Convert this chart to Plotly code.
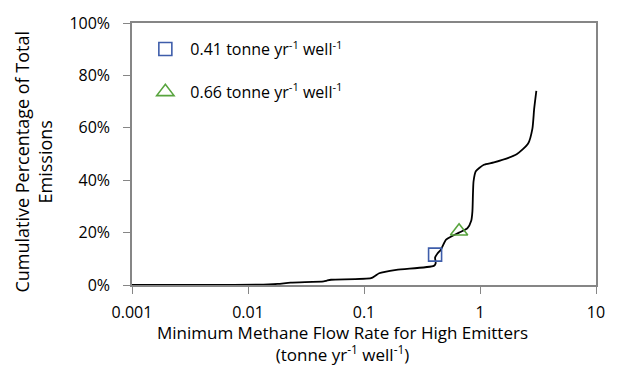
import plotly.graph_objects as go

# Cumulative curve (x in tonne/yr/well, y in %)
flow_rate = [0.001, 0.005, 0.012, 0.018, 0.0233, 0.045, 0.048, 0.052, 0.115, 0.125, 0.135,
             0.19, 0.40, 0.415, 0.41, 0.43, 0.46, 0.51, 0.57, 0.66, 0.78, 0.84, 0.86, 0.87,
             0.88, 0.92, 1.08, 1.32, 2.07, 2.6, 2.83, 2.93, 3.06]
cum_pct = [0.0, 0.05, 0.1, 0.4, 0.9, 1.4, 1.7, 2.0, 2.6, 3.5, 4.5,
           5.8, 7.3, 8.3, 10.5, 12.0, 13.5, 17.3, 18.6, 20.0, 21.7, 24.5, 28.0, 35.0,
           39.6, 43.4, 45.9, 46.8, 49.9, 54.0, 59.7, 67.2, 74.1]

marker_x = [0.41, 0.66]
marker_y = [11.6, 20.5]
marker_names = ["0.41 tonne yr<sup>-1</sup> well<sup>-1</sup>",
                "0.66 tonne yr<sup>-1</sup> well<sup>-1</sup>"]

x_tickvals = [0.001, 0.01, 0.1, 1, 10]
x_ticktext = ["0.001", "0.01", "0.1", "1", "10"]
y_tickvals = [0, 20, 40, 60, 80, 100]
y_ticktext = ["0%", "20%", "40%", "60%", "80%", "100%"]

FONT = "Open Sans"
AX = "#868686"

fig = go.Figure()
fig.add_trace(go.Scatter(x=flow_rate, y=cum_pct, mode="lines", line=dict(color="black", width=1.8, shape="spline", smoothing=0.6),
                         showlegend=False, hoverinfo="skip"))
fig.add_trace(go.Scatter(x=[marker_x[0]], y=[marker_y[0]], mode="markers", name=marker_names[0], legendgroup="a",
                         marker=dict(symbol="square-open", size=13, color="#3E5DAA", line=dict(width=1.6))))
fig.add_trace(go.Scatter(x=[marker_x[1]], y=[marker_y[1]], mode="markers", name=marker_names[1], legendgroup="b",
                         marker=dict(symbol="triangle-up-open", size=15, color="#58A43E", line=dict(width=1.6))))

fig.update_layout(
    width=617, height=382,
    margin=dict(l=132, r=13, t=19, b=97),
    paper_bgcolor="white", plot_bgcolor="white",
    font=dict(family=FONT, size=16, color="black"),
    showlegend=True,
    legend=dict(x=0.018, y=0.965, xanchor="left", yanchor="top", traceorder="grouped", tracegroupgap=19,
                itemwidth=40, bgcolor="rgba(0,0,0,0)", font=dict(family=FONT, size=16)),
    xaxis=dict(type="log", range=[-3, 1], tickvals=x_tickvals, ticktext=x_ticktext,
               showgrid=False, zeroline=False, showline=True, linecolor=AX, linewidth=1.5, mirror=True,
               ticks="outside", ticklen=7, tickcolor=AX, tickwidth=1.2, tickfont=dict(size=16),
               ticklabelstandoff=5, ticklabeloverflow="allow"),
    yaxis=dict(range=[0, 100], tickvals=y_tickvals, ticktext=y_ticktext,
               showgrid=False, zeroline=False, showline=True, linecolor=AX, linewidth=1.5, mirror=True,
               ticks="outside", ticklen=7, tickcolor=AX, tickwidth=1.2, tickfont=dict(size=16),
               ticklabelstandoff=10),
)

fig.add_annotation(text="Minimum Methane Flow Rate for High Emitters<br>(tonne yr<sup>-1</sup> well<sup>-1</sup>)",
                   xref="paper", yref="paper", x=(346 - 132) / 472, y=-(344 - 285) / 265,
                   xanchor="center", yanchor="middle", showarrow=False, font=dict(size=17), align="center")
fig.add_annotation(text="Cumulative Percentage of Total<br>Emissions",
                   xref="paper", yref="paper", x=-(132 - 32) / 472, y=0.5 - (160 - 152) / 265,
                   xanchor="center", yanchor="middle", showarrow=False, textangle=-90, font=dict(size=18), align="center")

fig.write_html("out.html", config={"displayModeBar": False},
               post_script="document.body.style.margin='0';document.body.style.padding='0';")
